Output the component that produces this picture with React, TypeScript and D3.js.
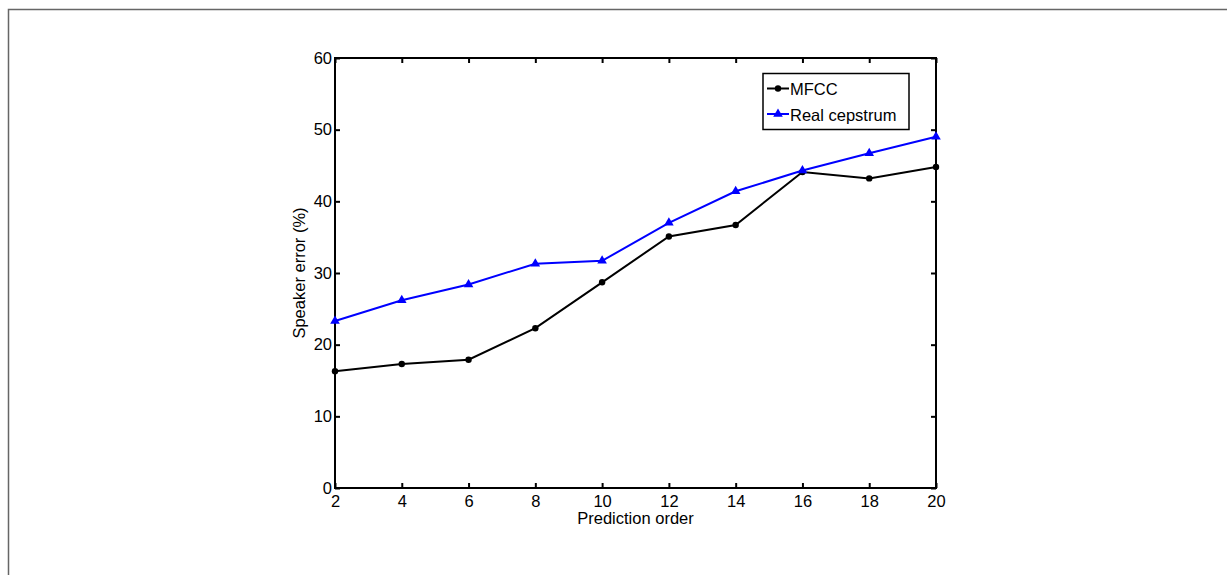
import React, { useRef, useEffect } from "react";
import * as d3 from "d3";

// prediction orders on the x axis
const orders = [2, 4, 6, 8, 10, 12, 14, 16, 18, 20];

// speaker error (%)
const mfcc = [16.3, 17.3, 17.9, 22.3, 28.7, 35.1, 36.7, 44.1, 43.2, 44.8];
const realCepstrum = [23.3, 26.2, 28.4, 31.3, 31.7, 37.0, 41.4, 44.3, 46.7, 49.0];

const xTicks = [2, 4, 6, 8, 10, 12, 14, 16, 18, 20];
const yTicks = [0, 10, 20, 30, 40, 50, 60];

const seriesNames = ["MFCC", "Real cepstrum"];

const App = () => {
  const ref = useRef<SVGSVGElement>(null);

  useEffect(() => {
    const width = 1227;
    const height = 575;
    const left = 335;
    const right = 936;
    const top = 58;
    const bottom = 488;
    const font = "Liberation Sans, Arial, Helvetica, sans-serif";
    const fs = 16.5;

    const svg = d3.select(ref.current);
    svg.selectAll("*").remove();
    svg.attr("width", width).attr("height", height);

    // outer frame of the figure
    svg.append("rect")
      .attr("x", 8.5).attr("y", 9.5)
      .attr("width", 1400).attr("height", 800)
      .attr("fill", "white")
      .attr("stroke", "#666").attr("stroke-width", 1.5);

    const x = d3.scaleLinear().domain([2, 20]).range([left, right]);
    const y = d3.scaleLinear().domain([0, 60]).range([bottom, top]);

    // axes, ticks pointing inward on all four sides
    const tick = 5;
    const axisStyle = (g: any) => {
      g.select(".domain").remove();
      g.selectAll("line").attr("stroke", "black").attr("stroke-width", 2);
      g.selectAll("text").attr("font-family", font).attr("font-size", fs).attr("fill", "black");
    };

    svg.append("g")
      .attr("transform", `translate(0,${bottom})`)
      .call(d3.axisBottom(x).tickValues(xTicks).tickSize(-tick).tickPadding(7.5).tickFormat(d3.format("d")))
      .call(axisStyle);

    svg.append("g")
      .attr("transform", `translate(0,${top})`)
      .call(d3.axisTop(x).tickValues(xTicks).tickSize(-tick).tickFormat(() => ""))
      .call(axisStyle);

    svg.append("g")
      .attr("transform", `translate(${left},0)`)
      .call(d3.axisLeft(y).tickValues(yTicks).tickSize(-tick).tickPadding(3).tickFormat(d3.format("d")))
      .call(axisStyle);

    svg.append("g")
      .attr("transform", `translate(${right},0)`)
      .call(d3.axisRight(y).tickValues(yTicks).tickSize(-tick).tickFormat(() => ""))
      .call(axisStyle);

    svg.append("rect")
      .attr("x", left).attr("y", top)
      .attr("width", right - left).attr("height", bottom - top)
      .attr("fill", "none").attr("stroke", "black").attr("stroke-width", 2);

    // axis labels
    svg.append("text")
      .attr("x", (left + right) / 2).attr("y", 524)
      .attr("text-anchor", "middle")
      .attr("font-family", font).attr("font-size", fs)
      .text("Prediction order");

    svg.append("text")
      .attr("transform", `translate(305,${(top + bottom) / 2}) rotate(-90)`)
      .attr("text-anchor", "middle")
      .attr("font-family", font).attr("font-size", fs)
      .text("Speaker error (%)");

    // lines
    const line = d3.line<number>()
      .x((d, i) => x(orders[i]))
      .y((d) => y(d));

    svg.append("path")
      .attr("fill", "none").attr("stroke", "black").attr("stroke-width", 2)
      .attr("d", line(mfcc));

    svg.append("path")
      .attr("fill", "none").attr("stroke", "blue").attr("stroke-width", 2)
      .attr("d", line(realCepstrum));

    // markers
    svg.selectAll()
      .data(mfcc)
      .enter()
      .append("circle")
        .attr("cx", (d, i) => x(orders[i]))
        .attr("cy", (d) => y(d))
        .attr("r", 3.2)
        .attr("fill", "black");

    const tri = d3.symbol(d3.symbolTriangle, 40);
    svg.selectAll()
      .data(realCepstrum)
      .enter()
      .append("path")
        .attr("d", tri)
        .attr("transform", (d, i) => `translate(${x(orders[i])},${y(d)})`)
        .attr("fill", "blue");

    // legend
    const lg = svg.append("g");
    lg.append("rect")
      .attr("x", 763).attr("y", 73.5)
      .attr("width", 146).attr("height", 56)
      .attr("fill", "white").attr("stroke", "black").attr("stroke-width", 1.5);

    const colors = ["black", "blue"];
    seriesNames.forEach((name, i) => {
      const cy = 88.5 + i * 25.5;
      lg.append("line")
        .attr("x1", 767).attr("x2", 789)
        .attr("y1", cy).attr("y2", cy)
        .attr("stroke", colors[i]).attr("stroke-width", 2);
      if (i === 0) {
        lg.append("circle").attr("cx", 778).attr("cy", cy).attr("r", 3.2).attr("fill", "black");
      } else {
        lg.append("path").attr("d", tri).attr("transform", `translate(778,${cy})`).attr("fill", "blue");
      }
      lg.append("text")
        .attr("x", 790).attr("y", cy + 6.5)
        .attr("font-family", font).attr("font-size", fs)
        .text(name);
    });
  }, []);

  return (
    <svg ref={ref} style={{ position: "absolute", left: 0, top: 0 }} width={1227} height={575} />
  );
};

export default App;
